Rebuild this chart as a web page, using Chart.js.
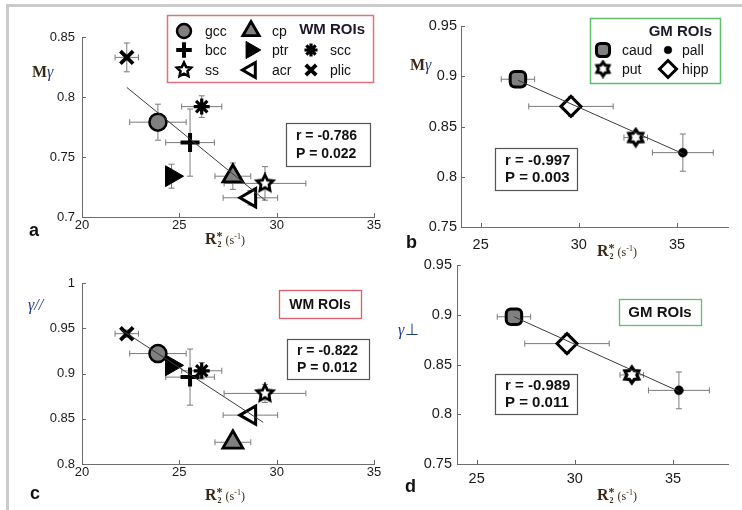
<!DOCTYPE html>
<html><head><meta charset="utf-8">
<script src="https://cdn.jsdelivr.net/npm/chart.js@4/dist/chart.umd.min.js"></script>
<style>
html,body{margin:0;padding:0;background:#fff;}
#wrap{position:relative;width:742px;height:510px;overflow:hidden;background:#fff;}
#wrap canvas{position:absolute;left:0;top:0;}
#frame{position:absolute;left:6px;top:4px;width:740px;height:510px;border-top:3px solid #cbcbcb;border-left:3px solid #cbcbcb;}
</style></head>
<body><div id="wrap"><div id="frame"></div>
<canvas id="pa" width="742" height="510"></canvas>
<canvas id="pb" width="742" height="510"></canvas>
<canvas id="pc" width="742" height="510"></canvas>
<canvas id="pd" width="742" height="510"></canvas>
</div>
<script>
// ---------------- DATA ----------------
const wmRois = ['gcc','bcc','ss','cp','ptr','acr','scc','plic'];
const wmR2 = [23.9, 25.55, 29.4, 27.75, 24.6, 28.65, 26.15, 22.3];
const wmR2Err = [1.45, 1.25, 2.1, 0.92, 0.3, 1.4, 1.03, 0.6];
const wmMgamma = [0.779, 0.762, 0.728, 0.734, 0.734, 0.716, 0.792, 0.833];
const wmMgammaErr = [0.015, 0.028, 0.014, 0.011, 0.010, 0.006, 0.009, 0.012];
const wmGammaPar = [0.922, 0.896, 0.878, 0.824, 0.909, 0.854, 0.903, 0.944];
const wmGammaParErr = [0.010, 0.031, 0.010, 0.005, 0.006, 0.005, 0.009, 0.004];

const gmRois = ['caud','put','pall','hipp'];
const gmR2 = [26.9, 32.9, 35.3, 29.6];
const gmR2Err = [0.85, 0.6, 1.55, 2.15];
const gmMgamma = [0.897, 0.839, 0.824, 0.870];
const gmMgammaErr = [0.003, 0.004, 0.0185, 0.010];
const gmGammaPerp = [0.898, 0.8395, 0.824, 0.871];
const gmGammaPerpErr = [0.003, 0.004, 0.0185, 0.010];

// regression line end points (x, y)
const fitAx = [22.3, 29.4],  fitAy = [0.808, 0.714];
const fitBx = [26.9, 35.3],  fitBy = [0.896, 0.823];
const fitCx = [22.04, 29.31], fitCy = [0.948, 0.846];
const fitDx = [26.9, 35.3],  fitDy = [0.898, 0.823];

const statsA = ['r = -0.786', 'P = 0.022'];
const statsB = ['r = -0.997', 'P = 0.003'];
const statsC = ['r = -0.822', 'P = 0.012'];
const statsD = ['r = -0.989', 'P = 0.011'];

const xTicksWM = [20, 25, 30, 35];
const xTicksGM = [25, 30, 35];
const yTicksA = [0.7, 0.75, 0.8, 0.85];
const yTicksB = [0.75, 0.8, 0.85, 0.9, 0.95];
const yTicksC = [0.8, 0.85, 0.9, 0.95, 1];
const yTicksD = [0.75, 0.8, 0.85, 0.9, 0.95];

// ---------------- MARKERS ----------------
function starCanvas(n, rOut, rIn, lw) {
  const s = Math.ceil(2 * rOut + lw + 2);
  const c = document.createElement('canvas');
  c.width = s; c.height = s;
  const g = c.getContext('2d');
  g.beginPath();
  for (let k = 0; k < 2 * n; k++) {
    const r = k % 2 === 0 ? rOut : rIn;
    const a = -Math.PI / 2 + k * Math.PI / n;
    const px = s / 2 + r * Math.cos(a), py = s / 2 + r * Math.sin(a);
    if (k === 0) g.moveTo(px, py); else g.lineTo(px, py);
  }
  g.closePath();
  g.fillStyle = '#fff'; g.fill();
  g.lineJoin = 'miter'; g.lineWidth = lw; g.strokeStyle = '#000'; g.stroke();
  return c;
}
const pentagram = starCanvas(5, 8.5, 4.2, 2.8);
const hexagram = starCanvas(6, 8, 5, 3.2);
const pentagramS = starCanvas(5, 7.5, 3.7, 2.6);
const hexagramS = starCanvas(6, 7, 4.4, 3);

const mk = {
  gcc:  {ps:'circle', r:8.5, rot:0, bg:'#808080', bw:2.5},
  bcc:  {ps:'cross', r:9.5, rot:0, bg:'#000', bw:4},
  ss:   {ps:pentagram, psS:pentagramS, r:8, rot:0, bg:'#fff', bw:1},
  cp:   {ps:'triangle', r:11.5, rot:0, bg:'#808080', bw:2.8},
  ptr:  {ps:'triangle', r:12, rot:90, bg:'#000', bw:1},
  acr:  {ps:'triangle', r:10.5, rot:-90, bg:'#fff', bw:3},
  scc:  {ps:'star', r:8, rot:0, bg:'#000', bw:3.2},
  plic: {ps:'crossRot', r:9, rot:0, bg:'#000', bw:3.8},
  caud: {ps:'rectRounded', r:9, rot:0, bg:'#808080', bw:3},
  put:  {ps:hexagram, psS:hexagramS, r:8, rot:0, bg:'#fff', bw:1},
  pall: {ps:'circle', r:4.5, rot:0, bg:'#000', bw:0.5},
  hipp: {ps:'rectRot', r:10, rot:0, bg:'#fff', bw:3}
};

// ---------------- PANELS ----------------
const SANS = '"Liberation Sans", Arial, sans-serif';
const SERIF = '"Liberation Serif", "Times New Roman", serif';

const panels = [
  {id:'pa', area:{l:82,t:37,r:374,b:217}, x:[20,35], y:[0.7,0.85], xt:xTicksWM, yt:yTicksA,
   rois:wmRois, xs:wmR2, xe:wmR2Err, ys:wmMgamma, ye:wmMgammaErr, fx:fitAx, fy:fitAy,
   tickFont:13, xPad:1, yPad:7, stats:statsA, statsBox:[286,123,84,43], statsFont:14,
   ylab:'M', ylabPos:[32,77], xlabPos:[225,244], letter:'a', letterPos:[29,236], legend:'wm'},
  {id:'pb', area:{l:461,t:26,r:728,b:227}, x:[24,37.6], y:[0.75,0.95], xt:xTicksGM, yt:yTicksB,
   rois:gmRois, xs:gmR2, xe:gmR2Err, ys:gmMgamma, ye:gmMgammaErr, fx:fitBx, fy:fitBy,
   tickFont:14.5, xPad:9, yPad:4, stats:statsB, statsBox:[495,148,82,42], statsFont:15,
   ylab:'M', ylabPos:[410,70], xlabPos:[617,256], letter:'b', letterPos:[406,248], legend:'gm'},
  {id:'pc', area:{l:82,t:283,r:374,b:464}, x:[20,35], y:[0.8,1], xt:xTicksWM, yt:yTicksC,
   rois:wmRois, xs:wmR2, xe:wmR2Err, ys:wmGammaPar, ye:wmGammaParErr, fx:fitCx, fy:fitCy,
   tickFont:13, xPad:1, yPad:7, stats:statsC, statsBox:[287,339,82,40], statsFont:14,
   ylab:'par', ylabPos:[28,310], xlabPos:[225,500], letter:'c', letterPos:[30,499], tag:'wm'},
  {id:'pd', area:{l:457,t:265,r:728,b:464}, x:[24,37.8], y:[0.75,0.95], xt:xTicksGM, yt:yTicksD,
   rois:gmRois, xs:gmR2, xe:gmR2Err, ys:gmGammaPerp, ye:gmGammaPerpErr, fx:fitDx, fy:fitDy,
   tickFont:14.5, xPad:6, yPad:5, stats:statsD, statsBox:[495,374,82,40], statsFont:15,
   ylab:'perp', ylabPos:[398,335], xlabPos:[617,500], letter:'d', letterPos:[405,492], tag:'gm'}
];
const panelById = {};
panels.forEach(p => { panelById[p.id] = p; });
const YW = 50, XH = 24; // reserved label bands for the axes

// ---------------- DRAW HELPERS ----------------
function drawXLabel(ctx, cx, by) {
  const col = '#3a2a18';
  ctx.save();
  ctx.fillStyle = col; ctx.textBaseline = 'alphabetic'; ctx.textAlign = 'left';
  const fR = 'bold 16px ' + SERIF, fS = 'bold 12px ' + SERIF, fSub = 'bold 8px ' + SERIF,
        fP = '12px ' + SERIF, fSup = '8px ' + SERIF;
  ctx.font = fR; const wR = ctx.measureText('R').width;
  ctx.font = fS; const wSt = ctx.measureText('*').width;
  ctx.font = fP; const wO = ctx.measureText('(s').width, wC = ctx.measureText(')').width;
  ctx.font = fSup; const wM = ctx.measureText('-1').width;
  const total = wR + wSt + 3 + wO + wM + wC;
  let x = cx - total / 2;
  ctx.font = fR; ctx.fillText('R', x, by); x += wR;
  ctx.font = fS; ctx.fillText('*', x, by - 4);
  ctx.font = fSub; ctx.fillText('2', x + 1, by + 3); x += wSt + 3;
  ctx.font = fP; ctx.fillText('(s', x, by); x += wO;
  ctx.font = fSup; ctx.fillText('-1', x, by - 5); x += wM;
  ctx.font = fP; ctx.fillText(')', x, by);
  ctx.restore();
}
function drawYLabel(ctx, kind, x, by) {
  ctx.save();
  ctx.textBaseline = 'alphabetic'; ctx.textAlign = 'left';
  const blue = '#1f3c8c';
  if (kind === 'M') {
    ctx.font = 'bold 16px ' + SERIF; ctx.fillStyle = '#3a2a18';
    ctx.fillText('M', x, by);
    const w = ctx.measureText('M').width;
    ctx.font = 'italic 16px ' + SERIF; ctx.fillStyle = blue;
    ctx.fillText('γ', x + w, by);
  } else if (kind === 'par') {
    ctx.font = 'italic 16px ' + SERIF; ctx.fillStyle = blue;
    ctx.fillText('γ//', x, by);
  } else {
    ctx.font = 'italic 16px ' + SERIF; ctx.fillStyle = blue;
    ctx.fillText('γ', x, by);
    const w = ctx.measureText('γ').width;
    ctx.font = '16px "DejaVu Sans", sans-serif';
    ctx.fillText('⊥', x + w + 1, by);
  }
  ctx.restore();
}
function marker(ctx, name, x, y, scale) {
  const m = mk[name];
  ctx.save();
  ctx.fillStyle = m.bg; ctx.strokeStyle = '#000'; ctx.lineWidth = m.bw;
  const ps = (scale < 1 && m.psS) ? m.psS : m.ps;
  Chart.helpers.drawPoint(ctx, {pointStyle: ps, rotation: m.rot, radius: m.r * scale, borderWidth: m.bw}, x, y);
  ctx.restore();
}
function box(ctx, x, y, w, h, col, lw) {
  ctx.save(); ctx.fillStyle = '#fff'; ctx.fillRect(x, y, w, h);
  ctx.strokeStyle = col; ctx.lineWidth = lw; ctx.strokeRect(x + 0.5, y + 0.5, w, h); ctx.restore();
}
function text(ctx, s, x, y, font, align, col) {
  ctx.save(); ctx.font = font; ctx.textAlign = align || 'left'; ctx.textBaseline = 'middle';
  ctx.fillStyle = col || '#111'; ctx.fillText(s, x, y); ctx.restore();
}

// ---------------- PLUGINS ----------------
const errPlugin = {
  id: 'errbars',
  beforeDatasetsDraw(chart) {
    const p = panelById[chart.canvas.id], ctx = chart.ctx;
    if (!p) return;
    const sx = chart.scales.x, sy = chart.scales.y;
    ctx.save(); ctx.strokeStyle = '#7a7a7a'; ctx.lineWidth = 1;
    for (let i = 0; i < p.xs.length; i++) {
      const cx = sx.getPixelForValue(p.xs[i]), cy = sy.getPixelForValue(p.ys[i]);
      const x0 = sx.getPixelForValue(p.xs[i] - p.xe[i]), x1 = sx.getPixelForValue(p.xs[i] + p.xe[i]);
      const y0 = sy.getPixelForValue(p.ys[i] - p.ye[i]), y1 = sy.getPixelForValue(p.ys[i] + p.ye[i]);
      ctx.beginPath();
      ctx.moveTo(x0, cy); ctx.lineTo(x1, cy);
      ctx.moveTo(x0, cy - 3); ctx.lineTo(x0, cy + 3);
      ctx.moveTo(x1, cy - 3); ctx.lineTo(x1, cy + 3);
      ctx.moveTo(cx, y0); ctx.lineTo(cx, y1);
      ctx.moveTo(cx - 3, y0); ctx.lineTo(cx + 3, y0);
      ctx.moveTo(cx - 3, y1); ctx.lineTo(cx + 3, y1);
      ctx.stroke();
    }
    ctx.restore();
  }
};
const decoPlugin = {
  id: 'deco',
  afterDraw(chart) {
    const p = panelById[chart.canvas.id], ctx = chart.ctx;
    if (!p) return;
    const sx = chart.scales.x, sy = chart.scales.y, a = chart.chartArea;
    // inward tick marks
    ctx.save(); ctx.strokeStyle = '#666'; ctx.lineWidth = 1;
    ctx.beginPath();
    p.xt.forEach(v => { const x = Math.round(sx.getPixelForValue(v)) + 0.5; ctx.moveTo(x, a.bottom); ctx.lineTo(x, a.bottom - 4); });
    p.yt.forEach(v => { const y = Math.round(sy.getPixelForValue(v)) + 0.5; ctx.moveTo(a.left, y); ctx.lineTo(a.left + 4, y); });
    ctx.stroke(); ctx.restore();
    // stats box
    const [bx, by, bw, bh] = p.statsBox;
    box(ctx, bx, by, bw, bh, '#555', 1.2);
    text(ctx, p.stats[0], bx + 10, by + bh * 0.3, 'bold ' + p.statsFont + 'px ' + SANS, 'left', '#111');
    text(ctx, p.stats[1], bx + 10, by + bh * 0.72, 'bold ' + p.statsFont + 'px ' + SANS, 'left', '#111');
    // labels
    drawXLabel(ctx, p.xlabPos[0], p.xlabPos[1]);
    drawYLabel(ctx, p.ylab, p.ylabPos[0], p.ylabPos[1]);
    ctx.save(); ctx.font = 'bold 18px ' + SANS; ctx.fillStyle = '#111'; ctx.textBaseline = 'alphabetic';
    ctx.fillText(p.letter, p.letterPos[0], p.letterPos[1]); ctx.restore();
    // legends / tags
    const lf = '14px ' + SANS, bf = 'bold 15px ' + SANS;
    if (p.legend === 'wm') {
      box(ctx, 167, 15, 206, 67, '#e0707a', 1.5);
      const cols = [[184, 205], [251, 272], [311, 330]], rows = [31, 50, 70];
      const layout = [['gcc',0,0],['cp',1,0],['bcc',0,1],['ptr',1,1],['scc',2,1],['ss',0,2],['acr',1,2],['plic',2,2]];
      layout.forEach(([n, c, r]) => {
        marker(ctx, n, cols[c][0], rows[r], 0.82);
        text(ctx, n, cols[c][1], rows[r] + 1, lf, 'left', '#111');
      });
      text(ctx, 'WM ROIs', 365, 30, bf, 'right', '#1a1a2a');
    }
    if (p.legend === 'gm') {
      box(ctx, 590, 18, 130, 65, '#5cbf6a', 1.5);
      text(ctx, 'GM ROIs', 712, 32, bf, 'right', '#1a1a2a');
      const layout = [['caud', 603, 622, 50], ['pall', 668, 682, 50], ['put', 603, 622, 69], ['hipp', 668, 682, 69]];
      layout.forEach(([n, mx, tx, y]) => { marker(ctx, n, mx, y, 0.85); text(ctx, n, tx, y + 1, lf, 'left', '#111'); });
    }
    if (p.tag === 'wm') { box(ctx, 279, 290, 82, 28, '#e05a6a', 1.3); text(ctx, 'WM ROIs', 320, 305, 'bold 14px ' + SANS, 'center', '#111'); }
    if (p.tag === 'gm') { box(ctx, 619, 299, 82, 26, '#5cbf6a', 1.3); text(ctx, 'GM ROIs', 660, 313, 'bold 15px ' + SANS, 'center', '#111'); }
  }
};

// ---------------- BUILD CHARTS ----------------
panels.forEach(p => {
  const ds = [];
  ds.push({label: 'fit', data: p.fx.map((x, i) => ({x: x, y: p.fy[i]})), showLine: true,
           borderColor: '#3a3a3a', borderWidth: 1, pointRadius: 0, fill: false});
  p.rois.forEach((n, i) => {
    const m = mk[n];
    ds.push({label: n, data: [{x: p.xs[i], y: p.ys[i]}], showLine: false,
      pointStyle: m.ps, pointRadius: m.r, pointRotation: m.rot, pointBackgroundColor: m.bg,
      pointBorderColor: '#000', pointBorderWidth: m.bw, pointHoverRadius: m.r});
  });
  const ticksOpt = (pad) => ({
    color: '#1a1a1a', font: {family: SANS, size: p.tickFont}, padding: pad,
    callback: v => String(v), autoSkip: false, maxRotation: 0
  });
  const cfg = {
    type: 'scatter',
    data: {datasets: ds},
    options: {
      responsive: false, animation: false, events: [],
      layout: {padding: {left: p.area.l - YW, top: p.area.t, right: 742 - p.area.r, bottom: 510 - p.area.b - XH}},
      plugins: {legend: {display: false}, tooltip: {enabled: false}},
      scales: {
        x: {type: 'linear', min: p.x[0], max: p.x[1],
            afterBuildTicks: s => { s.ticks = p.xt.map(v => ({value: v})); },
            afterFit: s => { s.height = XH; },
            grid: {display: false, drawTicks: false}, border: {display: true, color: '#6e6e6e', width: 1},
            ticks: ticksOpt(p.xPad)},
        y: {type: 'linear', min: p.y[0], max: p.y[1],
            afterBuildTicks: s => { s.ticks = p.yt.map(v => ({value: v})); },
            afterFit: s => { s.width = YW; },
            grid: {display: false, drawTicks: false}, border: {display: true, color: '#6e6e6e', width: 1},
            ticks: ticksOpt(p.yPad)}
      }
    },
    plugins: [errPlugin, decoPlugin]
  };
  new Chart(document.getElementById(p.id), cfg);
});
</script>
</body></html>
